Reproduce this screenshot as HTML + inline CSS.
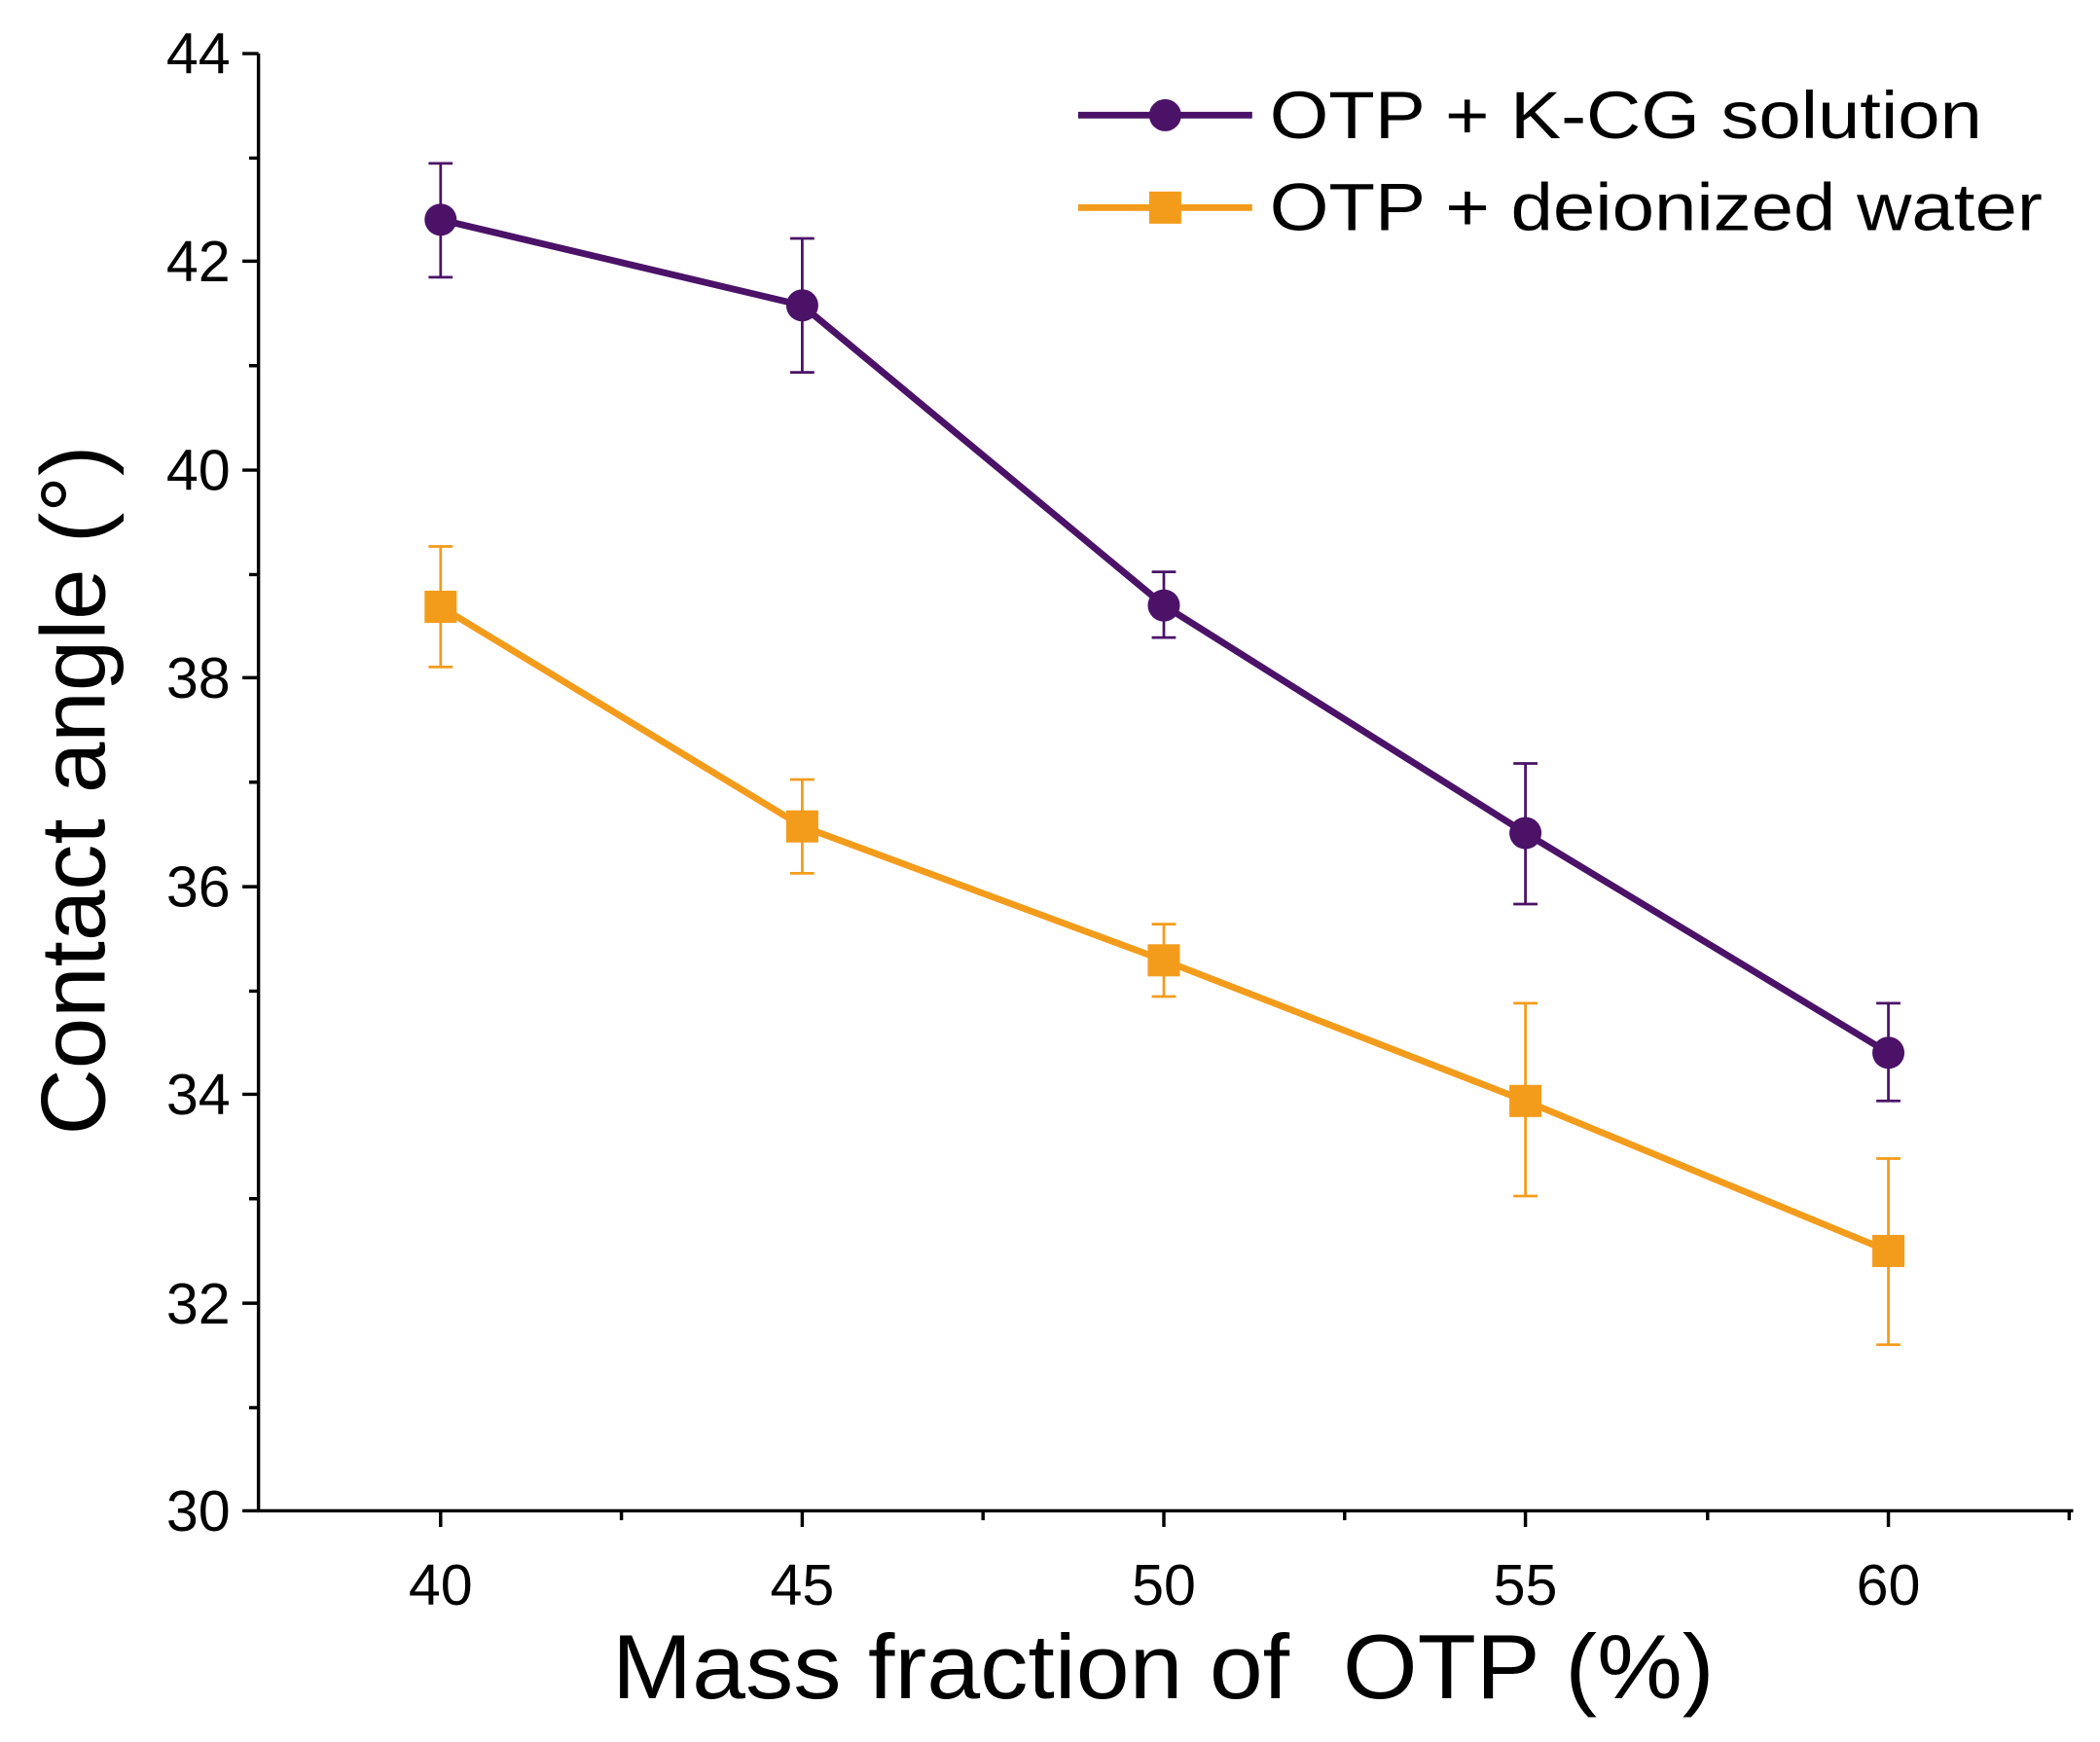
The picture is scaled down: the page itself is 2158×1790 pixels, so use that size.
<!DOCTYPE html>
<html><head><meta charset="utf-8"><style>html,body{margin:0;padding:0;background:#fff}svg{display:block}</style></head>
<body>
<svg width="2158" height="1790" viewBox="0 0 1568 1300.6" xmlns="http://www.w3.org/2000/svg" font-family="Liberation Sans, Arial, sans-serif">
<rect width="1568" height="1301" fill="#fff"/>
<g stroke="#000" stroke-width="2.5" fill="none">
<line x1="193" y1="40" x2="193" y2="1129"/>
<line x1="192" y1="1128" x2="1548" y2="1128"/>
<path d="M181 40H193M181 195H193M181 351H193M181 506H193M181 662H193M181 817H193M181 973H193M181 1128H193"/>
<path d="M186 118H193M186 273H193M186 429H193M186 584H193M186 740H193M186 895H193M186 1051H193"/>
<path d="M329 1128V1140M599 1128V1140M869 1128V1140M1139 1128V1140M1410 1128V1140"/>
<path d="M464 1128V1135M734 1128V1135M1004 1128V1135M1275 1128V1135M1545 1128V1135"/>
</g>
<g font-size="43" fill="#000" text-anchor="end">
<text x="172" y="55">44</text><text x="172" y="210">42</text><text x="172" y="366">40</text><text x="172" y="521">38</text><text x="172" y="677">36</text><text x="172" y="832">34</text><text x="172" y="988">32</text><text x="172" y="1143">30</text>
</g>
<g font-size="43" fill="#000" text-anchor="middle">
<text x="329" y="1198">40</text><text x="599" y="1198">45</text><text x="869" y="1198">50</text><text x="1139" y="1198">55</text><text x="1410" y="1198">60</text>
</g>
<text x="457" y="1268" font-size="68" textLength="823" lengthAdjust="spacingAndGlyphs" xml:space="preserve">Mass fraction of  OTP (%)</text>
<text transform="translate(78,590) rotate(-90)" font-size="68" text-anchor="middle" textLength="515" lengthAdjust="spacingAndGlyphs">Contact angle (°)</text>
<g stroke="#f39c1c" stroke-width="2" fill="none">
<path d="M329 408V498M320 408H338M320 498H338"/>
<path d="M599 582V652M590 582H608M590 652H608"/>
<path d="M869 690V744M860 690H878M860 744H878"/>
<path d="M1139 749V893M1130 749H1148M1130 893H1148"/>
<path d="M1410 865V1004M1401 865H1419M1401 1004H1419"/>
</g>
<polyline points="329,453 599,617 869,717 1139,822 1410,934" stroke="#f39c1c" stroke-width="5" fill="none"/>
<g fill="#f39c1c">
<rect x="317" y="441" width="24" height="24"/><rect x="587" y="605" width="24" height="24"/><rect x="857" y="705" width="24" height="24"/><rect x="1127" y="810" width="24" height="24"/><rect x="1398" y="922" width="24" height="24"/>
</g>
<g stroke="#4b1268" stroke-width="2" fill="none">
<path d="M329 122V207M320 122H338M320 207H338"/>
<path d="M599 178V278M590 178H608M590 278H608"/>
<path d="M869 427V476M860 427H878M860 476H878"/>
<path d="M1139 570V675M1130 570H1148M1130 675H1148"/>
<path d="M1410 749V822M1401 749H1419M1401 822H1419"/>
</g>
<polyline points="329,164 599,228 869,452 1139,622 1410,786" stroke="#4b1268" stroke-width="5" fill="none"/>
<g fill="#4b1268">
<circle cx="329" cy="164" r="12"/><circle cx="599" cy="228" r="12"/><circle cx="869" cy="452" r="12"/><circle cx="1139" cy="622" r="12"/><circle cx="1410" cy="786" r="12"/>
</g>
<line x1="805" y1="86" x2="935" y2="86" stroke="#4b1268" stroke-width="5"/>
<circle cx="870" cy="86" r="12" fill="#4b1268"/>
<text x="948" y="103" font-size="50" textLength="532" lengthAdjust="spacingAndGlyphs">OTP + K-CG solution</text>
<line x1="805" y1="155" x2="935" y2="155" stroke="#f39c1c" stroke-width="5"/>
<rect x="858" y="143" width="24" height="24" fill="#f39c1c"/>
<text x="948" y="172" font-size="50" textLength="577" lengthAdjust="spacingAndGlyphs">OTP + deionized water</text>
</svg>
</body></html>
